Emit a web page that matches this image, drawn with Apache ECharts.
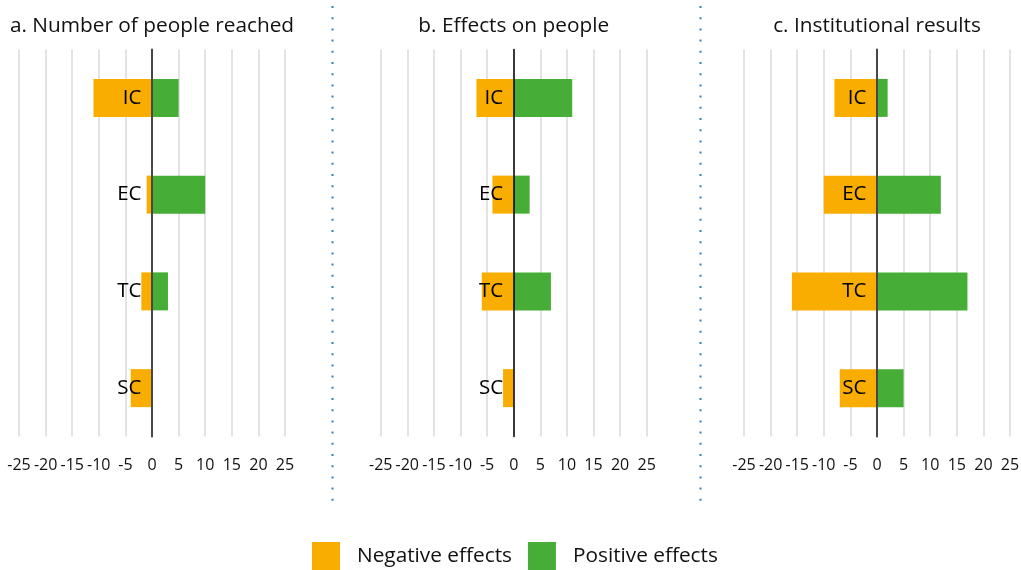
<!DOCTYPE html>
<html>
<head>
<meta charset="utf-8">
<script src="https://cdn.jsdelivr.net/npm/echarts@6/dist/echarts.min.js"></script>
<style>html,body{margin:0;padding:0;background:#fff}#c{width:1021px;height:570px}</style>
</head>
<body>
<div id="c"></div>
<script>
var categories = ['IC', 'EC', 'TC', 'SC'];
var panelTitles = ['a. Number of people reached', 'b. Effects on people', 'c. Institutional results'];
var negA = [-11, -1, -2, -4];
var posA = [5, 10, 3, 0];
var negB = [-7, -4, -6, -2];
var posB = [11, 3, 7, 0];
var negC = [-8, -10, -16, -7];
var posC = [2, 12, 17, 5];
var seriesNames = ['Negative effects', 'Positive effects'];
var xMin = -25, xMax = 25, xStep = 5;

var FONT = 'Open Sans';
var ORANGE = '#f9ad00';
var GREEN = '#46ad36';
var negs = [negA, negB, negC];
var poss = [posA, posB, posC];
var gridLefts = [19, 380.7, 744];
var gridW = 266;
var axisColors = ['#474747', '#000000', '#474747'];
var axisWidths = [2, 1.5, 2];

var grids = [], xAxes = [], yAxes = [], series = [], titles = [];
for (var i = 0; i < 3; i++) {
  grids.push({left: gridLefts[i], width: gridW, top: 49.5, height: 387, containLabel: false, outerBoundsMode: 'none'});
  titles.push({
    text: panelTitles[i], left: gridLefts[i] + gridW / 2, top: 16, textAlign: 'center', padding: 0,
    textStyle: {fontFamily: FONT, fontSize: 20.8, fontWeight: 'normal', color: '#111111'}
  });
  xAxes.push({
    type: 'value', gridIndex: i, min: xMin, max: xMax, interval: xStep,
    axisLine: {show: false}, axisTick: {show: false},
    splitLine: {show: true, lineStyle: {color: '#dadada', width: 1.5}},
    axisLabel: {fontFamily: FONT, fontSize: 16, color: '#111111', margin: 21, hideOverlap: false,
      formatter: function (v) { return String(v); }}
  });
  yAxes.push({
    type: 'category', gridIndex: i, data: categories, inverse: true, z: 10,
    axisLine: {show: true, onZero: true, lineStyle: {color: axisColors[i], width: axisWidths[i]}},
    axisTick: {show: false}, splitLine: {show: false},
    axisLabel: {show: false}
  });
  series.push({
    name: seriesNames[0], type: 'bar', xAxisIndex: i, yAxisIndex: i, stack: 's' + i,
    data: negs[i], barWidth: 38, itemStyle: {color: ORANGE}, silent: true
  });
  series.push({
    name: seriesNames[1], type: 'bar', xAxisIndex: i, yAxisIndex: i, stack: 's' + i,
    data: poss[i], barWidth: 38, itemStyle: {color: GREEN}, silent: true
  });
  series.push({
    type: 'scatter', xAxisIndex: i, yAxisIndex: i, z: 20, silent: true,
    symbol: 'circle', symbolSize: 1, itemStyle: {color: 'rgba(0,0,0,0)'},
    data: categories.map(function (c) { return [0, c]; }),
    label: {show: true, position: 'left', distance: 10, fontFamily: FONT, fontSize: 20.5, color: '#000000',
      opacity: 1, formatter: function (p) { return p.value[1]; }}
  });
}

var chart = echarts.init(document.getElementById('c'), null, {renderer: 'canvas'});
chart.setOption({
  animation: false,
  backgroundColor: '#ffffff',
  title: titles,
  grid: grids,
  xAxis: xAxes,
  yAxis: yAxes,
  series: series,
  legend: {
    data: seriesNames, left: 312, top: 542, itemWidth: 28, itemHeight: 28, itemGap: 16, padding: 0,
    icon: 'rect', selectedMode: false,
    textStyle: {fontFamily: FONT, fontSize: 20.8, color: '#111111', padding: [0, 0, 0, 12]}
  },
  graphic: [
    {type: 'line', shape: {x1: 332.5, y1: 6, x2: 332.5, y2: 502}, style: {stroke: '#2a80c8', lineWidth: 2, lineDash: [2, 9.2]}},
    {type: 'line', shape: {x1: 700.5, y1: 6, x2: 700.5, y2: 502}, style: {stroke: '#2a80c8', lineWidth: 2, lineDash: [2, 9.2]}}
  ]
});
</script>
</body>
</html>
